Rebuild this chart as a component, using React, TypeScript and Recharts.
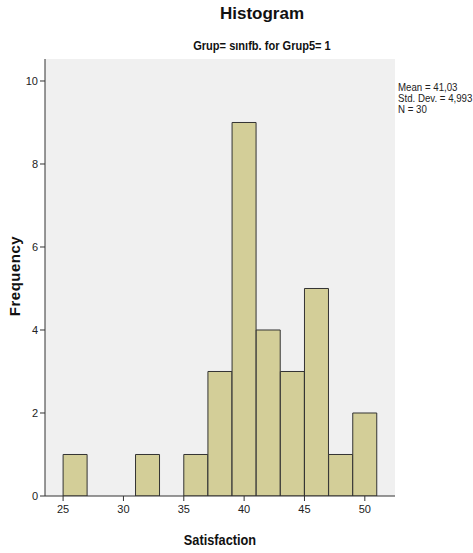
import React from 'react';
import { ComposedChart, Bar, XAxis, YAxis, CartesianGrid } from 'recharts';

// histogram bins (width 2), centre of each bin
const binCenters = [26, 28, 30, 32, 34, 36, 38, 40, 42, 44, 46, 48, 50];
const frequencies = [1, 0, 0, 1, 0, 1, 3, 9, 4, 3, 5, 1, 2];
const xTicks = [25, 30, 35, 40, 45, 50];
const yTicks = [0, 2, 4, 6, 8, 10];
const statLines = ['Mean = 41,03', 'Std. Dev. = 4,993', 'N = 30'];

const FONT = '"Liberation Sans", Arial, sans-serif';
const X_DOMAIN: [number, number] = [23.5, 52.5];
const Y_DOMAIN: [number, number] = [0, 10.53];

const data = binCenters.map((x, i) => ({ x, count: frequencies[i] }));

const App: React.FC = () => {
  const tickStyle = { fontSize: 11, fill: '#222', fontFamily: FONT };
  return (
    <div style={{ position: 'absolute', left: 0, top: 0, width: 473, height: 553, background: '#fff', fontFamily: FONT }}>
      <div style={{ position: 'absolute', left: 0, width: 524, top: 4, textAlign: 'center', fontSize: 17, fontWeight: 'bold', color: '#111' }}>
        Histogram
      </div>
      <div
        style={{
          position: 'absolute', left: 0, width: 524, top: 38, textAlign: 'center', fontSize: 13,
          fontWeight: 'bold', color: '#111', transform: 'scaleX(0.85)', whiteSpace: 'nowrap',
        }}
      >
        Grup= sınıfb. for Grup5= 1
      </div>
      <div
        style={{
          position: 'absolute', left: 398, top: 82, fontSize: 11, lineHeight: '11px', color: '#222',
          whiteSpace: 'nowrap', transform: 'scaleX(0.88)', transformOrigin: 'left top',
        }}
      >
        {statLines.map((s) => (
          <div key={s}>{s}</div>
        ))}
      </div>

      <ComposedChart
        width={473}
        height={553}
        data={data}
        margin={{ top: 59, right: 78, left: 0, bottom: 0 }}
        barCategoryGap={0}
        barGap={0}
      >
        <CartesianGrid fill="#f0f0f0" horizontal={false} vertical={false} />
        <XAxis
          dataKey="x"
          type="number"
          domain={X_DOMAIN}
          ticks={xTicks}
          allowDataOverflow
          height={57}
          stroke="#333"
          tickSize={5}
          tickMargin={4}
          tick={tickStyle}
        />
        <XAxis xAxisId="top" orientation="top" type="number" domain={X_DOMAIN} height={0} tick={false} tickLine={false} stroke="#444" />
        <YAxis
          type="number"
          domain={Y_DOMAIN}
          ticks={yTicks}
          allowDataOverflow
          width={45}
          stroke="#333"
          tickSize={5}
          tickMargin={2}
          tick={tickStyle}
        />
        <YAxis yAxisId="right" orientation="right" type="number" domain={Y_DOMAIN} width={0} tick={false} tickLine={false} stroke="#444" />
        <Bar dataKey="count" fill="#d3ce98" stroke="#333" strokeWidth={1} isAnimationActive={false} />
      </ComposedChart>

      <div
        style={{
          position: 'absolute', left: 120, width: 200, top: 531, textAlign: 'center', fontSize: 15,
          fontWeight: 'bold', color: '#111', transform: 'scaleX(0.85)',
        }}
      >
        Satisfaction
      </div>
      <div
        style={{
          position: 'absolute', left: 15, top: 276, width: 120, textAlign: 'center',
          fontSize: 15, fontWeight: 'bold', color: '#111', letterSpacing: 0.5,
          transform: 'translate(-50%, -50%) rotate(-90deg)', lineHeight: '18px',
        }}
      >
        Frequency
      </div>
    </div>
  );
};

export default App;
